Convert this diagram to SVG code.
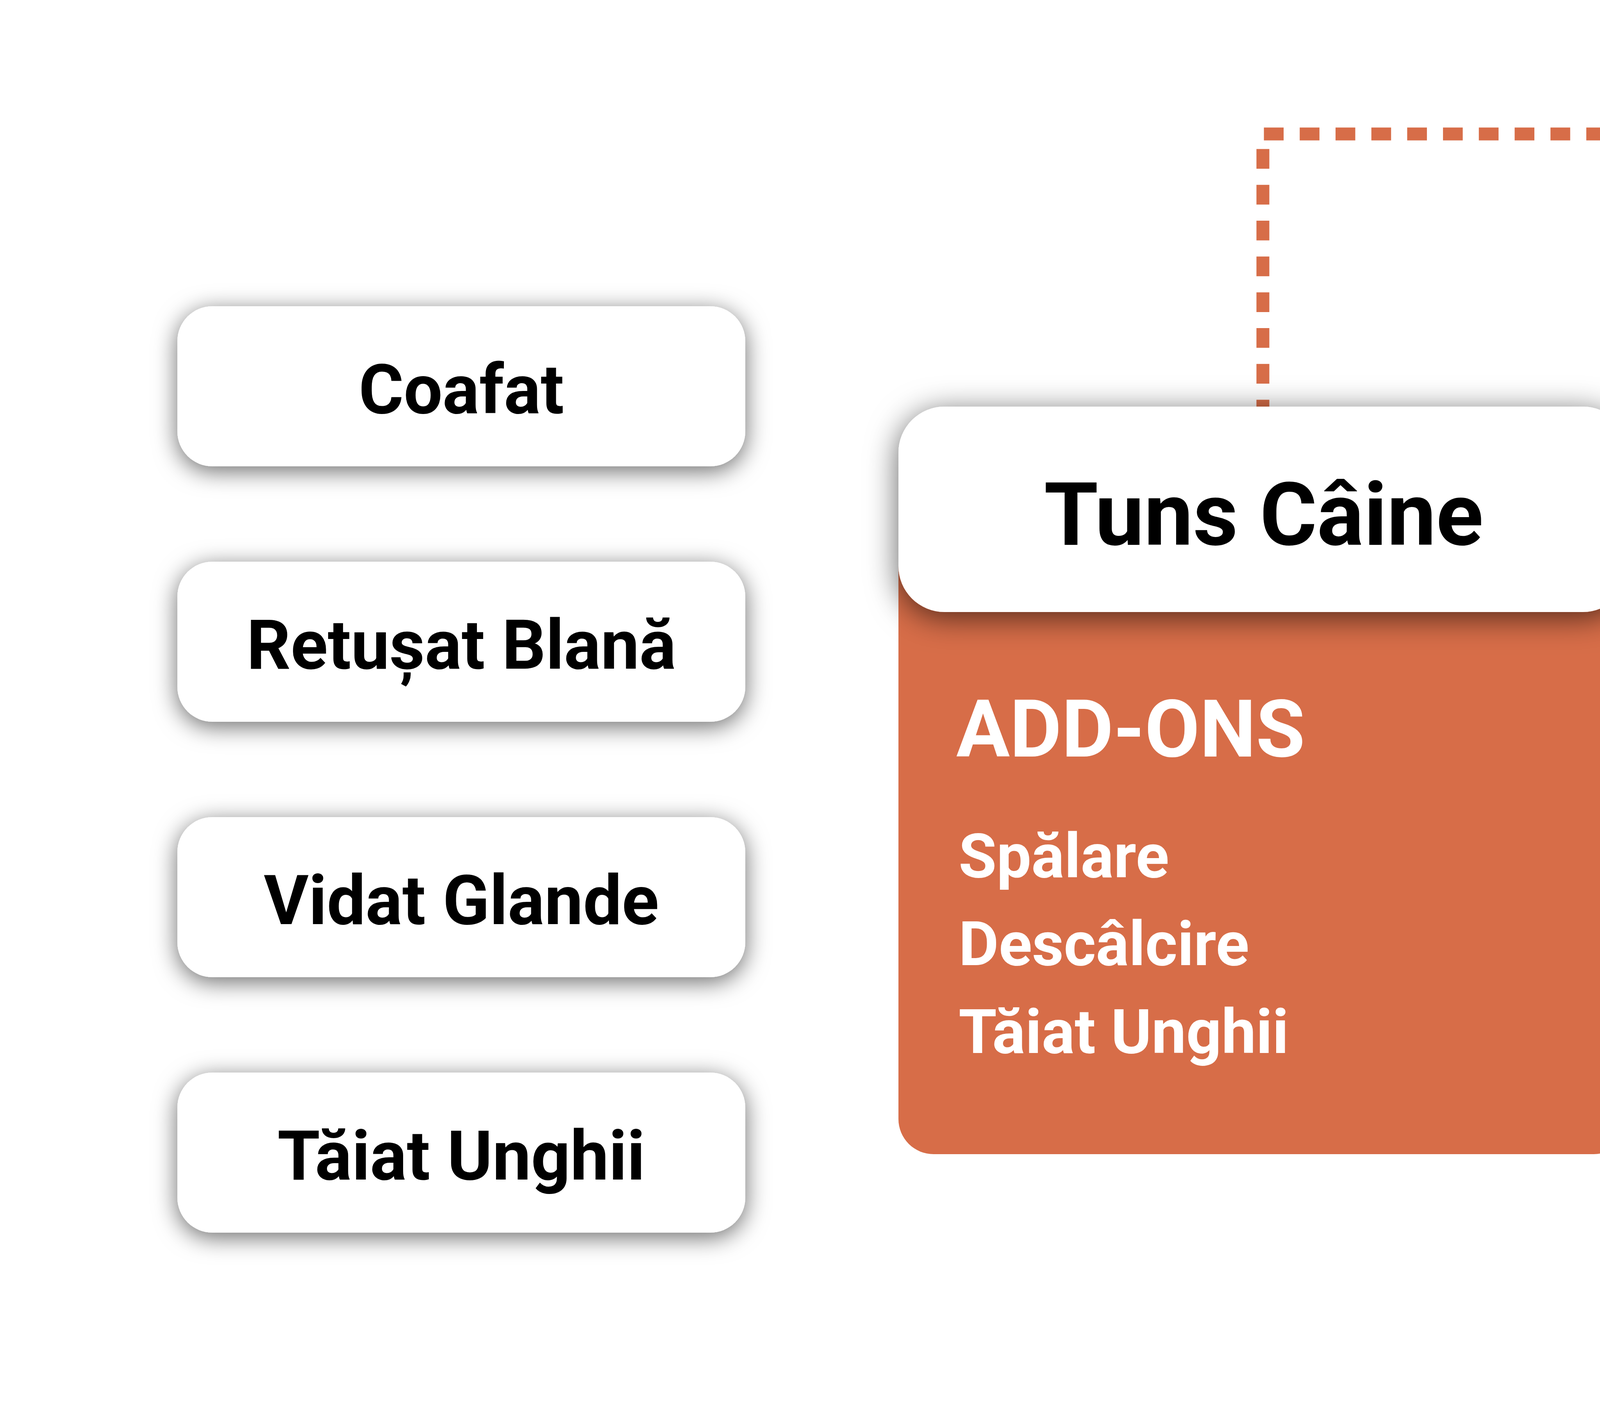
<svg xmlns="http://www.w3.org/2000/svg" width="4763" height="3587" viewBox="0 0 4763 3587">
  <defs>
    <filter id="shSmall" x="-20%" y="-50%" width="140%" height="200%">
      <feDropShadow dx="0" dy="12" stdDeviation="30" flood-color="#000" flood-opacity="0.58"/>
    </filter>
    <filter id="shBig" x="-20%" y="-50%" width="140%" height="200%">
      <feDropShadow dx="0" dy="14" stdDeviation="40" flood-color="#000" flood-opacity="0.62"/>
    </filter>
  </defs>
  <style>
    .conn { fill: none; stroke: #D76D48; stroke-width: 33; stroke-dasharray: 50.5 41.2; stroke-linecap: butt; stroke-linejoin: miter; }
    .box { fill: #FFFFFF; }
    .lbl { font-family: Roboto, "Liberation Sans", sans-serif; font-weight: 700; fill: #000000; text-anchor: middle; }
    .card { fill: #D76D48; }
    .addon { font-family: Roboto, "Liberation Sans", sans-serif; font-weight: 700; fill: #FFFFFF; }
  </style>
  <rect x="0" y="0" width="4763" height="3587" fill="#FFFFFF"/>

  <g id="connectors">
    <path class="conn" d="M3233,1074 V343 H4604 V-20"/>
    <path class="conn" d="M4157,1306 H4604 V3600"/>
  </g>

  <g id="node-coafat">
    <rect class="box" x="454" y="784" width="1454" height="410" rx="90" filter="url(#shSmall)"/>
    <text class="lbl" x="1181" y="1058" font-size="176">Coafat</text>
  </g>
  <g id="node-retusat">
    <rect class="box" x="454" y="1438" width="1454" height="410" rx="90" filter="url(#shSmall)"/>
    <text class="lbl" x="1181" y="1712" font-size="176">Retușat Blană</text>
  </g>
  <g id="node-vidat">
    <rect class="box" x="454" y="2092" width="1454" height="410" rx="90" filter="url(#shSmall)"/>
    <text class="lbl" x="1181" y="2366" font-size="176">Vidat Glande</text>
  </g>
  <g id="node-taiat">
    <rect class="box" x="454" y="2746" width="1454" height="410" rx="90" filter="url(#shSmall)"/>
    <text class="lbl" x="1181" y="3020" font-size="176">Tăiat Unghii</text>
  </g>

  <g id="node-tuns">
    <rect class="card" x="2300" y="1300" width="1870" height="1655" rx="90"/>
    <text class="addon" x="2448" y="1937" font-size="204">ADD-ONS</text>
    <text class="addon" x="2454" y="2246" font-size="158">Spălare</text>
    <text class="addon" x="2454" y="2471" font-size="158">Descâlcire</text>
    <text class="addon" x="2454" y="2696" font-size="158">Tăiat Unghii</text>
    <rect class="box" x="2300" y="1041" width="1870" height="526" rx="118" filter="url(#shBig)"/>
    <text class="lbl" x="3235" y="1395" font-size="224">Tuns Câine</text>
  </g>
</svg>
